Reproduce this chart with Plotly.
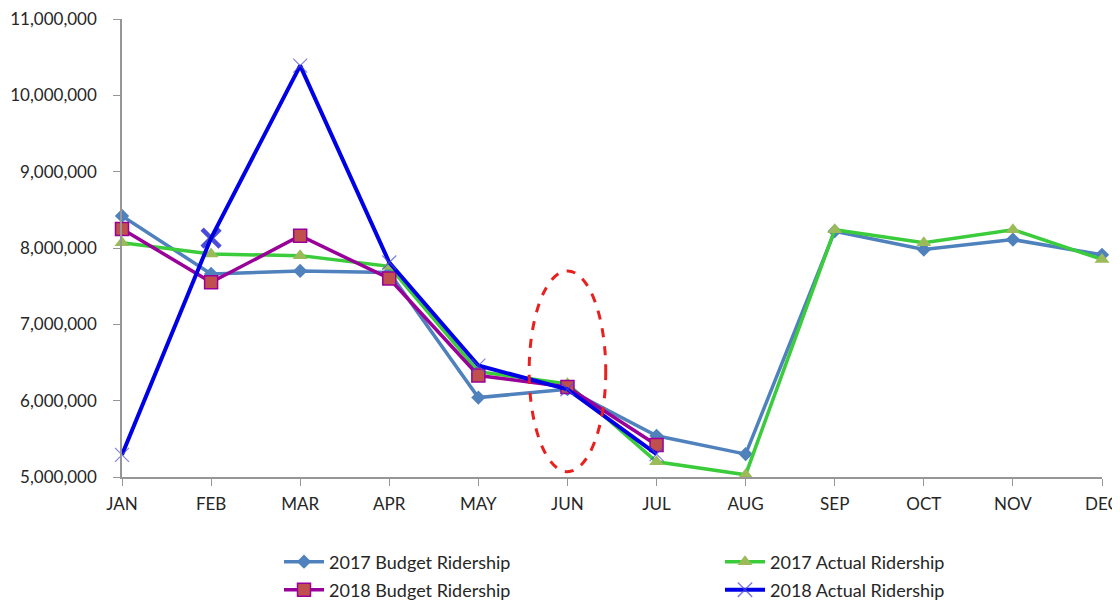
import plotly.graph_objects as go

months = ["JAN", "FEB", "MAR", "APR", "MAY", "JUN", "JUL", "AUG", "SEP", "OCT", "NOV", "DEC"]
budget_2017 = [8420000, 7660000, 7700000, 7680000, 6040000, 6150000, 5540000, 5300000, 8220000, 7980000, 8110000, 7910000]
actual_2017 = [8070000, 7920000, 7900000, 7760000, 6380000, 6220000, 5200000, 5030000, 8240000, 8070000, 8240000, 7850000]
budget_2018 = [8250000, 7550000, 8160000, 7600000, 6330000, 6180000, 5420000, None, None, None, None, None]
actual_2018 = [5290000, 8130000, 10390000, 7810000, 6460000, 6150000, 5300000, None, None, None, None, None]
y_ticks = [5000000, 6000000, 7000000, 8000000, 9000000, 10000000, 11000000]

FONT = "Lato"
TXT = "#262626"
W, H = 1112, 596

fig = go.Figure()
fig.add_trace(go.Scatter(
    x=months, y=budget_2017, name="2017 Budget Ridership", mode="lines+markers",
    line=dict(color="#4F81BD", width=3.5),
    marker=dict(symbol="diamond", size=11, color="#4F81BD"),
    cliponaxis=False, legend="legend"))
fig.add_trace(go.Scatter(
    x=months, y=actual_2017, name="2017 Actual Ridership", mode="lines+markers",
    line=dict(color="#3ACC3A", width=3.5),
    marker=dict(symbol="triangle-up", size=13, color="#9BBB59"),
    cliponaxis=False, legend="legend2"))
fig.add_trace(go.Scatter(
    x=months, y=budget_2018, name="2018 Budget Ridership", mode="lines+markers",
    line=dict(color="#990099", width=3.5),
    marker=dict(symbol="square", size=13, color="#C0504D", line=dict(color="#990099", width=1.5)),
    cliponaxis=False, legend="legend3"))
fig.add_trace(go.Scatter(
    x=months, y=actual_2018, name="2018 Actual Ridership", mode="lines+markers",
    line=dict(color="#0000E6", width=4),
    marker=dict(symbol="x-thin", size=[14, 18, 14, 14, 14, 14, 14, 14, 14, 14, 14, 14],
                color="#0000CC",
                line=dict(color=["#4B4BD8", "#0000CC"] + ["#4B4BD8"] * 10,
                          width=[1.2, 4.5, 1.2, 1.2, 1.2, 1.2, 1.2, 1.2, 1.2, 1.2, 1.2, 1.2])),
    cliponaxis=False, legend="legend4"))

fig.add_shape(type="circle", xref="x", yref="y", x0=4.57, x1=5.43, y0=5.07e6, y1=7.7e6,
              line=dict(color="#E8201E", width=3, dash="dash"))

def leg(xpx, ypx):
    return dict(xref="container", yref="container", x=xpx / W, y=1 - ypx / H,
                xanchor="left", yanchor="middle", orientation="v",
                bgcolor="rgba(0,0,0,0)", borderwidth=0, itemwidth=40,
                font=dict(family=FONT, size=18, color=TXT))

fig.update_layout(
    width=W, height=H,
    margin=dict(l=114, r=18, t=11, b=127, autoexpand=False),
    paper_bgcolor="white", plot_bgcolor="white",
    font=dict(family=FONT, color=TXT, size=17),
    showlegend=True,
    legend=leg(271, 554),
    legend2=leg(712, 554),
    legend3=leg(271, 582),
    legend4=leg(712, 582),
    xaxis=dict(type="category", range=[0, 11], showgrid=False, showline=True,
               linecolor="#969696", linewidth=1.5, ticks="outside", ticklen=7,
               tickcolor="#969696", tickfont=dict(family=FONT, size=17, color=TXT),
               ticklabelstandoff=4, ticklabeloverflow="allow", zeroline=False),
    yaxis=dict(range=[5000000, 11000000], tickvals=y_ticks, tickformat=",d",
               showgrid=False, showline=True, linecolor="#969696", linewidth=1.5,
               ticks="outside", ticklen=7, tickcolor="#969696",
               tickfont=dict(family=FONT, size=17, color=TXT),
               ticklabelstandoff=13, ticklabeloverflow="allow", zeroline=False),
)

fig.write_html("out.html")
